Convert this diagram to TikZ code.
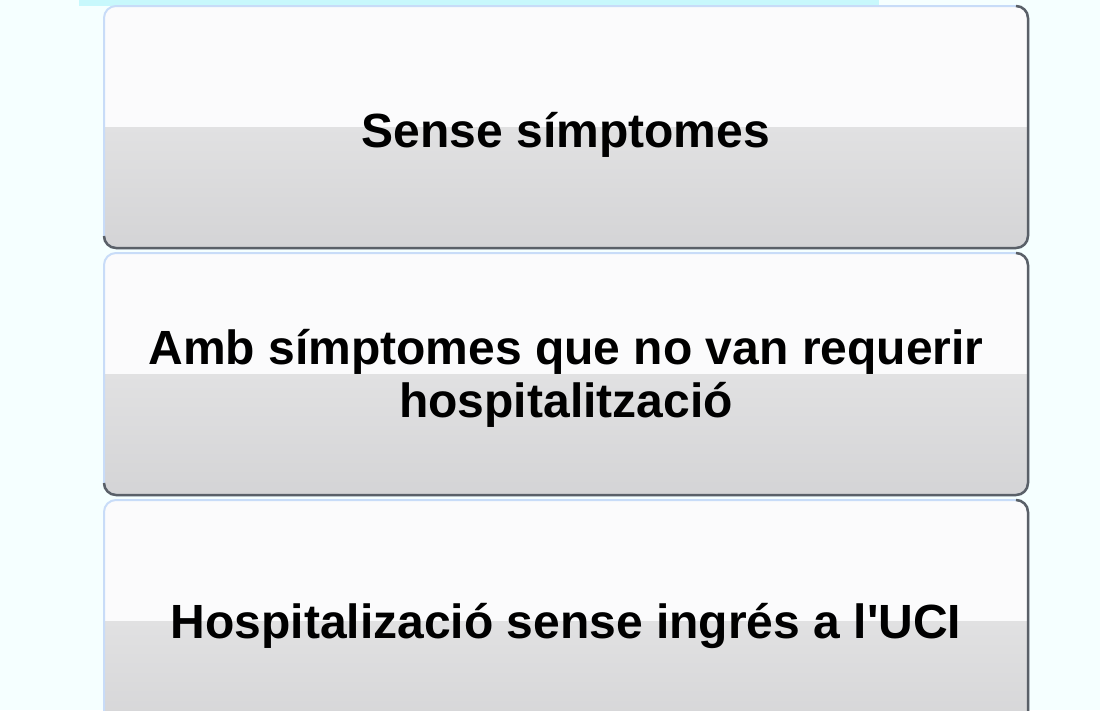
\documentclass[tikz,border=0pt]{standalone}
\usepackage{fontspec}
\setmainfont{Liberation Sans}
\usepackage{tikz}
\usepackage{xcolor}
\usetikzlibrary{positioning}
\definecolor{pagebg}{RGB}{245, 255, 255}
\definecolor{titleband}{RGB}{200, 248, 252}
\definecolor{boxtop}{RGB}{251, 251, 252}
\definecolor{boxmid}{RGB}{238, 238, 238}
\definecolor{boxlow}{RGB}{212, 212, 214}
\definecolor{edgeblue}{RGB}{200, 220, 248}
\definecolor{edgedark}{RGB}{90, 96, 104}
\tikzstyle{stagebox} = [
    rectangle,
    rounded corners=12pt,
    minimum width=924pt,
    minimum height=242pt,
    outer sep=0pt,
    inner sep=0pt,
    draw=edgeblue,
    line width=2pt,
    fill=boxtop,
    path picture={
        \shade[sharp corners, top color=boxmid, bottom color=boxlow]
            (path picture bounding box.west) rectangle (path picture bounding box.south east);
    }
]
\tikzstyle{stagetext} = [
    align=center,
    inner sep=0pt,
    anchor=base,
    font=\fontsize{48}{53}\selectfont\bfseries
]
\tikzstyle{darkedge} = [
    line width=2.5pt,
    draw=edgedark,
    rounded corners=12pt
]

\begin{document}
\begin{tikzpicture}[x=1pt, y=-1pt]
    \clip (0,0) rectangle (1100,710);
    \fill[pagebg] (0,0) rectangle (1100,710);
    \fill[titleband] (79,0) rectangle (879,6);
    % stages
    \node[stagebox] (sense) at (566,127) {};
    \node[stagebox, below=5pt of sense] (amb) {};
    \node[stagebox, below=5pt of amb] (hosp) {};
    % shadow edges
    \foreach \b in {sense, amb, hosp}
        \draw[darkedge] ([xshift=-12pt]\b.north east) -- (\b.north east) -- (\b.south east) -- (\b.south west) -- ([yshift=12pt]\b.south west);
    % labels
    \node[stagetext] (senseText) at ([yshift=-20pt]sense.center) {Sense símptomes};
    \node[stagetext] (ambText) at ([yshift=-43.5pt]amb.center) {Amb símptomes que no van requerir\\hospitalització};
    \node[stagetext] (hospText) at ([yshift=-17pt]hosp.center) {Hospitalizació sense ingrés a l\textquotesingle UCI};
\end{tikzpicture}
\end{document}
